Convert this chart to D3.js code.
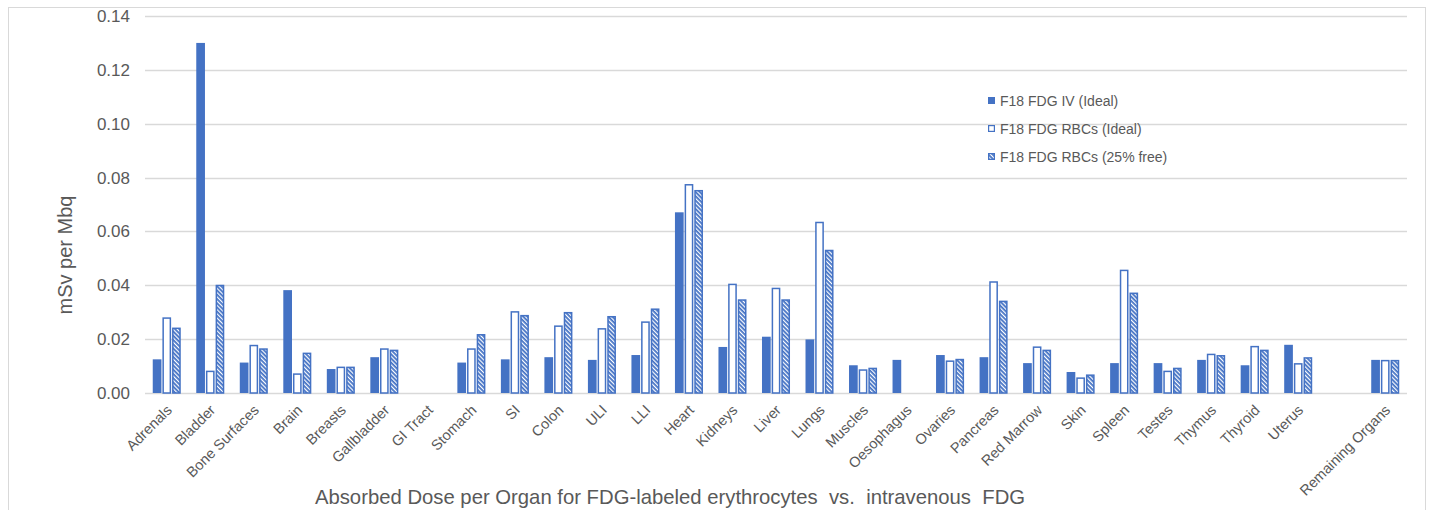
<!DOCTYPE html>
<html>
<head>
<meta charset="utf-8">
<script src="https://cdn.jsdelivr.net/npm/d3@7/dist/d3.min.js"></script>
<style>
  html, body { margin: 0; padding: 0; background: #fff; }
  svg { display: block; font-family: "Liberation Sans", Arial, sans-serif; }
</style>
</head>
<body>
<svg id="chart" width="1429" height="510"></svg>
<script>
// Organ categories (the empty entry is a spacer slot before "Remaining Organs")
const categories = ["Adrenals", "Bladder", "Bone Surfaces", "Brain", "Breasts", "Gallbladder", "GI Tract",
  "Stomach", "SI", "Colon", "ULI", "LLI", "Heart", "Kidneys", "Liver", "Lungs", "Muscles", "Oesophagus",
  "Ovaries", "Pancreas", "Red Marrow", "Skin", "Spleen", "Testes", "Thymus", "Thyroid", "Uterus", "",
  "Remaining Organs"];

const seriesNames = ["F18 FDG IV (Ideal)", "F18 FDG RBCs (Ideal)", "F18 FDG RBCs (25% free)"];

// Absorbed dose, mSv per MBq
const ivIdeal = [0.0125, 0.1300, 0.0113, 0.0382, 0.0089, 0.0133, null, 0.0113, 0.0125, 0.0133, 0.0123,
  0.0141, 0.0671, 0.0171, 0.0209, 0.0199, 0.0103, 0.0123, 0.0141, 0.0133, 0.0111, 0.0078, 0.0111,
  0.0111, 0.0123, 0.0103, 0.0179, null, 0.0123];
const rbcIdeal = [0.0281, 0.0083, 0.0179, 0.0073, 0.0098, 0.0166, null, 0.0166, 0.0304, 0.0251, 0.0241,
  0.0266, 0.0776, 0.0406, 0.0391, 0.0636, 0.0088, null, 0.0121, 0.0415, 0.0173, 0.0058, 0.0458,
  0.0083, 0.0146, 0.0175, 0.0111, null, 0.0123];
const rbcFree25 = [0.0243, 0.0402, 0.0166, 0.0150, 0.0098, 0.0161, null, 0.0219, 0.0290, 0.0301, 0.0286,
  0.0314, 0.0754, 0.0348, 0.0348, 0.0532, 0.0094, null, 0.0127, 0.0343, 0.0161, 0.0069, 0.0373,
  0.0094, 0.0141, 0.0161, 0.0133, null, 0.0123];

const yTicks = [0, 0.02, 0.04, 0.06, 0.08, 0.10, 0.12, 0.14];

const seriesValues = [ivIdeal, rbcIdeal, rbcFree25];
const blue = "#4472C4";
const textColor = "#595959";
const gridColor = "#d9d9d9";

const svg = d3.select("#chart");

// Hatch fill: white downward diagonal stripes on blue
const defs = svg.append("defs");
const pat = defs.append("pattern")
  .attr("id", "hatch")
  .attr("patternUnits", "userSpaceOnUse")
  .attr("width", 3).attr("height", 3)
  .attr("patternTransform", "rotate(-45)");
pat.append("rect").attr("width", 3).attr("height", 3).attr("fill", blue);
pat.append("line").attr("x1", 0.6).attr("y1", 0).attr("x2", 0.6).attr("y2", 3)
  .attr("stroke", "#fff").attr("stroke-width", 1.2);

// Outer frame
svg.append("rect")
  .attr("x", 8.5).attr("y", 7.5).attr("width", 1417).attr("height", 520)
  .attr("fill", "none").attr("stroke", gridColor).attr("stroke-width", 1);

const plot = { left: 145, right: 1407, top: 16, bottom: 393 };

const x = d3.scaleBand().domain(categories).range([plot.left, plot.right]).padding(0);
const bw = x.bandwidth();
const xs = d3.scaleBand().domain(d3.range(3))
  .range([bw * 0.178, bw * 0.822]).paddingInner(0.1);
const y = d3.scaleLinear().domain([0, 0.14]).range([plot.bottom, plot.top]);

// Horizontal gridlines
svg.append("g").selectAll("line").data(yTicks).join("line")
  .attr("x1", plot.left).attr("x2", plot.right)
  .attr("y1", d => Math.round(y(d)) + 0.5).attr("y2", d => Math.round(y(d)) + 0.5)
  .attr("stroke", gridColor).attr("stroke-width", 1.3);

// Y axis tick labels
const yAxis = d3.axisLeft(y).tickValues(yTicks).tickFormat(d3.format(".2f")).tickSize(0).tickPadding(0);
const gy = svg.append("g").attr("transform", `translate(130,0)`).call(yAxis);
gy.select(".domain").remove();
gy.selectAll("text").attr("fill", textColor).style("font-size", "17px")
  .style("font-family", "'Liberation Sans', Arial, sans-serif");

// Bars
const rows = [];
categories.forEach((c, i) => {
  seriesValues.forEach((vals, s) => {
    if (vals[i] != null) rows.push({ cat: c, s, v: vals[i] });
  });
});

svg.append("g").selectAll("rect").data(rows).join("rect")
  .attr("x", d => x(d.cat) + xs(d.s) + (d.s === 0 ? 0 : 0.75))
  .attr("y", d => y(d.v) + (d.s === 0 ? 0 : 0.75))
  .attr("width", d => xs.bandwidth() - (d.s === 0 ? 0 : 1.5))
  .attr("height", d => plot.bottom - y(d.v) - (d.s === 0 ? 0 : 0.75))
  .attr("fill", d => d.s === 0 ? blue : d.s === 1 ? "#fff" : "url(#hatch)")
  .attr("stroke", d => d.s === 0 ? "none" : blue)
  .attr("stroke-width", 1.5);

// Category labels, rotated
svg.append("g").selectAll("text").data(categories.filter(c => c !== "")).join("text")
  .attr("transform", d => `translate(${x(d) + bw / 2 + 6},411) rotate(-45)`)
  .attr("text-anchor", "end")
  .attr("fill", textColor)
  .style("font-size", "14.5px")
  .text(d => d);

// Axis titles
svg.append("text")
  .attr("transform", "translate(72,255) rotate(-90)")
  .attr("text-anchor", "middle")
  .attr("fill", textColor)
  .style("font-size", "20px")
  .text("mSv per Mbq");

svg.append("text")
  .attr("x", 670).attr("y", 504)
  .attr("text-anchor", "middle")
  .attr("fill", textColor)
  .style("font-size", "20.3px")
  .style("white-space", "pre")
  .text("Absorbed Dose per Organ for FDG-labeled erythrocytes  vs.  intravenous  FDG");

// Legend
const legend = svg.append("g").attr("transform", "translate(988,0)");
const legendY = [101, 129, 157];
seriesNames.forEach((name, s) => {
  const g = legend.append("g").attr("transform", `translate(0,${legendY[s]})`);
  g.append("rect")
    .attr("x", s === 0 ? 0 : 0.6).attr("y", s === 0 ? -4 : -3.4)
    .attr("width", s === 0 ? 7 : 5.8).attr("height", s === 0 ? 7 : 5.8)
    .attr("fill", s === 0 ? blue : s === 1 ? "#fff" : "url(#hatch)")
    .attr("stroke", s === 0 ? "none" : blue).attr("stroke-width", 1.2);
  g.append("text")
    .attr("x", 12).attr("y", 5)
    .attr("fill", textColor)
    .style("font-size", "14px")
    .text(name);
});
</script>
</body>
</html>
